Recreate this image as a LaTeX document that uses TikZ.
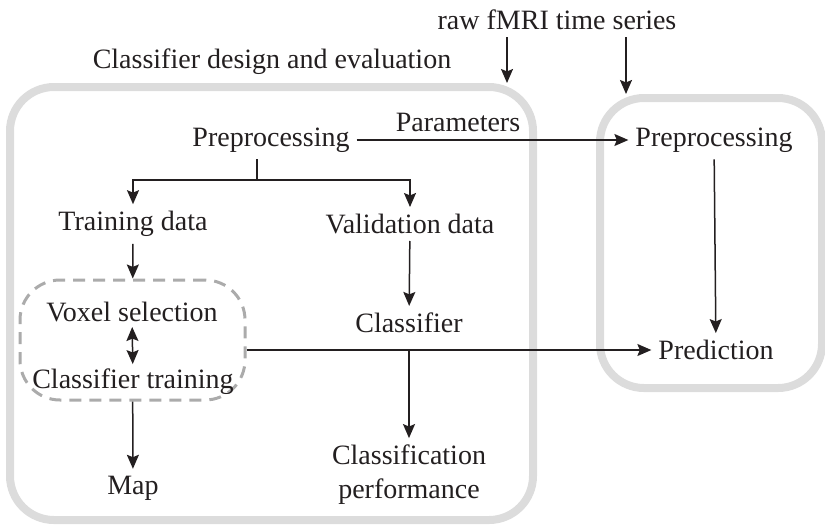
\documentclass[tikz,border=0pt]{standalone}
\usepackage{fontspec}
\setmainfont{Liberation Serif}
\usetikzlibrary{arrows.meta}
\usetikzlibrary{positioning}

\definecolor{framegray}{HTML}{DCDCDC}
\definecolor{dashgray}{HTML}{ABABAB}
\definecolor{ink}{HTML}{231F20}

\tikzset{
  every node/.style={font=\fontsize{14}{17}\selectfont, text=ink},
  frame/.style={draw=framegray, line width=4pt, rounded corners=22pt, inner sep=0pt},
  selbox/.style={draw=dashgray, line width=1.5pt, dash pattern=on 6pt off 4pt, rounded corners=20pt, inner sep=0pt},
  arr/.style={draw=ink, line width=0.75pt, -{Stealth[length=7pt,width=6pt,inset=1.2pt]}},
  arrboth/.style={draw=ink, line width=0.75pt, {Stealth[length=7pt,width=6pt,inset=1.2pt]}-{Stealth[length=7pt,width=6pt,inset=1.2pt]}},
}

\begin{document}
\begin{tikzpicture}[x=0.5pt, y=-0.5pt]
  \useasboundingbox (0,0) rectangle (825,526);

  % frames
  \node [frame, minimum width=261.5pt, minimum height=216.5pt] (design) at (271.5,303.5) {};
  \node [frame, minimum width=111pt, minimum height=145pt] (apply) at (711,243) {};
  \node [selbox, minimum width=112.5pt, minimum height=60pt] (sel) at (132.5,340) {};

  \node (raw) at (557,20) {raw fMRI time series};
  \node (title) at (272,62) {Classifier design and evaluation};

  \node (pre) at (271,140) {Preprocessing};
  \node (pre2) at (714,140) {Preprocessing};
  \node (params) at (458,122) {Parameters};

  \node (tdata) at (133,224) {Training data};
  \node (vdata) at (410,224) {Validation data};

  \node (vox) at (132,312) {Voxel selection};
  \node (ctrain) at (133,382) {Classifier training};

  \node (cls) at (409,323) {Classifier};
  \node (pred) at (716,350) {Prediction};
  \node [align=center] (perf) at (409,475) {Classification\\performance};
  \node (map) at (133,488) {Map};

  \coordinate (split) at (257,180);

  \draw [arr] (raw.south -| 507,0) -- (design.north -| 507,0);
  \draw [arr] (raw.south -| 626,0) -- (apply.north -| 626,0);

  \draw [arr] (pre) -- (pre2);
  \draw [ink, line width=0.75pt] (pre.south -| split) -- (split);
  \draw [arr] (split) -| (tdata);
  \draw [arr] (split) -| (vdata);

  \draw [arr] (tdata) -- (sel);
  \draw [arrboth, shorten <=-1pt, shorten >=-1pt] (vox) -- (ctrain);
  \draw [arr] (sel) -- (map);

  \draw [arr] (vdata) -- (cls);
  \draw [arr] (sel.east |- pred) -- (pred);
  \draw [arr] (cls |- pred) -- (perf);
  \draw [arr] (pre2) -- (pred);
\end{tikzpicture}
\end{document}
